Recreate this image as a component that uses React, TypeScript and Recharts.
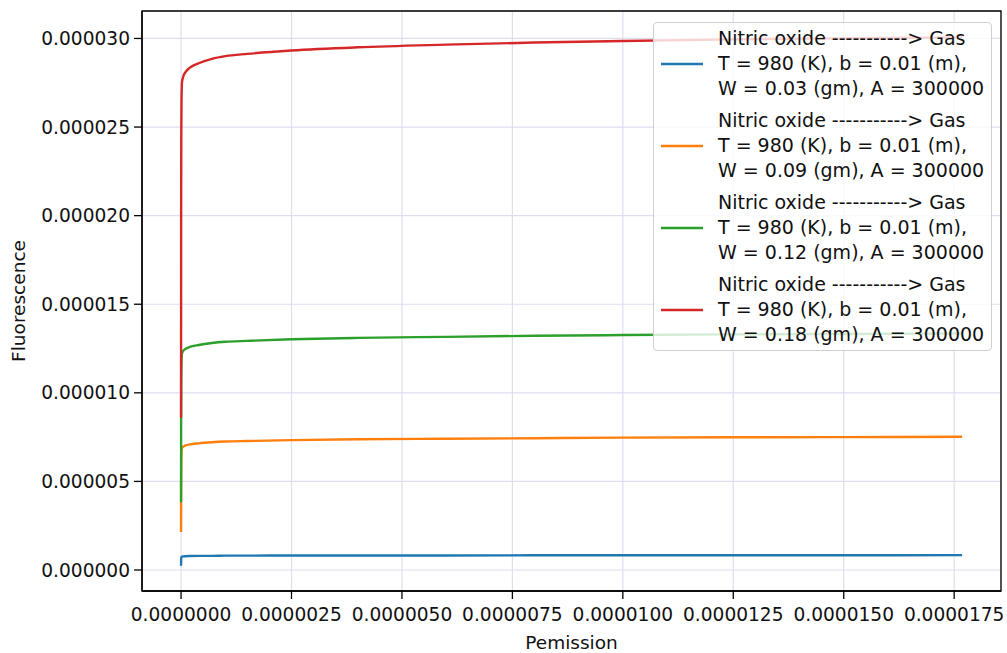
import {
  LineChart,
  Line,
  XAxis,
  YAxis,
  CartesianGrid,
  Legend,
  ReferenceArea,
} from "recharts";

// x in units of 1e-6, y in units of 1e-6
const permission = [
  0, 0.002, 0.005, 0.01, 0.02, 0.05, 0.1, 0.2, 0.4, 0.7, 1.0, 1.5, 2.5, 4, 6,
  8, 10, 12.5, 15, 17.68,
];
const blueVals = [
  0.24, 0.56, 0.68, 0.73, 0.76, 0.77, 0.78, 0.79, 0.8, 0.8, 0.81, 0.81, 0.82,
  0.82, 0.82, 0.83, 0.83, 0.83, 0.83, 0.84,
];
const orangeVals = [
  2.15, 5.0, 6.13, 6.58, 6.88, 6.96, 7.03, 7.09, 7.15, 7.21, 7.25, 7.28, 7.33,
  7.38, 7.41, 7.44, 7.47, 7.49, 7.5, 7.52,
];
const greenVals = [
  3.82, 8.88, 10.88, 11.68, 12.21, 12.37, 12.48, 12.59, 12.7, 12.81, 12.88,
  12.93, 13.02, 13.1, 13.16, 13.22, 13.26, 13.3, 13.32, 13.35,
];
const redVals = [
  8.6, 20.0, 24.5, 26.3, 27.5, 27.85, 28.1, 28.35, 28.6, 28.85, 29.0, 29.13,
  29.32, 29.5, 29.65, 29.77, 29.86, 29.95, 30.01, 30.06,
];
const weights = ["0.03", "0.09", "0.12", "0.18"];
const colors = ["#1f77b4", "#ff7f0e", "#2ca02c", "#d62728"];
const xTicks = [0, 2.5, 5, 7.5, 10, 12.5, 15, 17.5];
const yTicks = [0, 5, 10, 15, 20, 25, 30];

const X_DOMAIN: [number, number] = [-0.884, 18.56];
const Y_DOMAIN: [number, number] = [-1.185, 31.55];

const data = permission.map((x, i) => ({
  x,
  s0: blueVals[i],
  s1: orangeVals[i],
  s2: greenVals[i],
  s3: redVals[i],
}));

const FONT = "DejaVu Sans";

function LegendBox() {
  return (
    <div
      style={{
        width: 339,
        boxSizing: "border-box",
        background: "rgba(255,255,255,0.8)",
        border: "1px solid #d0d0d0",
        borderRadius: 4,
        padding: "3px 8px 3px 7px",
        fontFamily: FONT,
        fontSize: 19,
        color: "#111",
      }}
    >
      {weights.map((w, i) => (
        <div
          key={w}
          style={{
            display: "flex",
            alignItems: "center",
            marginTop: i === 0 ? 0 : 7,
          }}
        >
          <svg width={42} height={4} style={{ marginRight: 15, flexShrink: 0 }}>
            <line x1={0} y1={2} x2={42} y2={2} stroke={colors[i]} strokeWidth={2.5} />
          </svg>
          <div style={{ lineHeight: "25px", whiteSpace: "nowrap" }}>
            <div>Nitric oxide -----------&gt; Gas</div>
            <div>T = 980 (K), b = 0.01 (m),</div>
            <div>W = {w} (gm), A = 300000</div>
          </div>
        </div>
      ))}
    </div>
  );
}

function YLabel({ viewBox }: any) {
  const cx = viewBox.x + 18.5;
  const cy = viewBox.y + viewBox.height / 2;
  return (
    <text
      x={cx}
      y={cy}
      transform={`rotate(-90 ${cx} ${cy})`}
      textAnchor="middle"
      dominantBaseline="central"
      fontFamily={FONT}
      fontSize={18.5}
      fill="#111"
    >
      Fluorescence
    </text>
  );
}

export default function App() {
  const tickStyle = { fontSize: 18.6, fill: "#111", fontFamily: FONT };
  return (
    <div style={{ position: "absolute", left: 0, top: 0, background: "#fff" }}>
      <LineChart
        width={1007}
        height={653}
        data={data}
        margin={{ top: 11, right: 6, left: 0, bottom: 0 }}
      >
        <CartesianGrid stroke="#dedef3" strokeWidth={1.2} />
        <XAxis
          dataKey="x"
          type="number"
          domain={X_DOMAIN}
          allowDataOverflow
          ticks={xTicks}
          tickFormatter={(v: number) => (v / 1e6).toFixed(7)}
          tick={tickStyle}
          tickSize={8}
          tickMargin={9}
          height={62}
          stroke="#000"
          strokeWidth={1.3}
          label={{
            value: "Pemission",
            position: "insideBottom",
            offset: 4,
            style: { fontFamily: FONT, fontSize: 18.5, fill: "#111" },
          }}
        />
        <YAxis
          type="number"
          domain={Y_DOMAIN}
          allowDataOverflow
          ticks={yTicks}
          tickFormatter={(v: number) => (v / 1e6).toFixed(6)}
          tick={tickStyle}
          tickSize={8}
          tickMargin={4}
          width={142}
          stroke="#000"
          strokeWidth={1.3}
          label={{ content: YLabel }}
        />
        <ReferenceArea
          x1={X_DOMAIN[0]}
          x2={X_DOMAIN[1]}
          y1={Y_DOMAIN[0]}
          y2={Y_DOMAIN[1]}
          fill="none"
          stroke="#000"
          strokeWidth={1.3}
          fillOpacity={0}
        />
        {colors.map((c, i) => (
          <Line
            key={c}
            type="monotone"
            dataKey={`s${i}`}
            stroke={c}
            strokeWidth={2.4}
            dot={false}
            isAnimationActive={false}
          />
        ))}
        <Legend
          layout="vertical"
          align="center"
          verticalAlign="middle"
          content={() => <LegendBox />}
          wrapperStyle={{ top: 22, left: 653, width: 339 }}
        />
      </LineChart>
    </div>
  );
}
